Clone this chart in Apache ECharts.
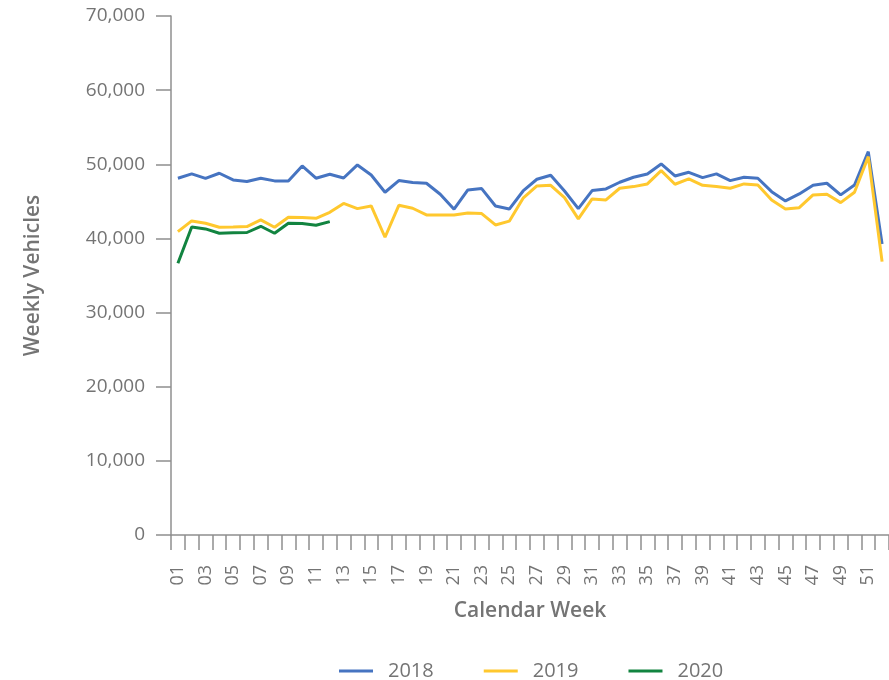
<!DOCTYPE html>
<html>
<head>
<meta charset="utf-8">
<script src="https://cdn.jsdelivr.net/npm/echarts@6/dist/echarts.min.js"></script>
<style>
  html, body { margin: 0; padding: 0; background: #fff; }
  #chart { width: 889px; height: 680px; }
</style>
</head>
<body>
<div id="chart"></div>
<script>
// calendar weeks
const weeks = ['01','02','03','04','05','06','07','08','09','10','11','12','13',
  '14','15','16','17','18','19','20','21','22','23','24','25','26',
  '27','28','29','30','31','32','33','34','35','36','37','38','39',
  '40','41','42','43','44','45','46','47','48','49','50','51','52'];

const v2018 = [48120, 48700, 48100, 48790, 47890, 47670, 48120, 47760, 47760, 49780,
  48120, 48660, 48150, 49910, 48560, 46230, 47800, 47530, 47440, 45960,
  43940, 46540, 46720, 44380, 43960, 46400, 47980, 48520, 46400, 44020,
  46450, 46680, 47580, 48250, 48700, 50050, 48430, 48920, 48200, 48700,
  47800, 48250, 48120, 46310, 45060, 46000, 47170, 47440, 45870, 47210,
  51710, 39260];

const v2019 = [40910, 42360, 42050, 41510, 41540, 41600, 42500, 41510, 42860, 42810,
  42720, 43530, 44720, 44020, 44380, 40160, 44470, 44070, 43170, 43150,
  43150, 43440, 43350, 41820, 42330, 45420, 47080, 47170, 45500, 42630,
  45330, 45190, 46770, 46990, 47350, 49150, 47310, 48030, 47170, 46990,
  46770, 47350, 47210, 45190, 43980, 44150, 45870, 45960, 44830, 46230,
  51030, 36870];

const v2020 = [36650, 41550, 41280, 40700, 40780, 40800, 41640, 40700, 42050, 42020,
  41780, 42270];

const chart = echarts.init(document.getElementById('chart'));

const textGrey = '#747474';
const axisGrey = '#8f8f8f';
const font = '"Open Sans", "Noto Sans", sans-serif';

function lineSeries(name, data, color) {
  return {
    name, type: 'line', data,
    showSymbol: false,
    symbol: 'none',
    lineStyle: { color, width: 3 },
    itemStyle: { color },
    animation: false
  };
}

chart.setOption({
  animation: false,
  textStyle: { fontFamily: font },
  grid: { left: 171, top: 16, width: 720, height: 519 },
  legend: {
    left: 334, top: 656,
    icon: 'rect',
    itemWidth: 34, itemHeight: 3,
    itemGap: 50,
    textStyle: { color: textGrey, fontSize: 20, fontFamily: font, padding: [0, 0, 0, 10] },
    data: ['2018', '2019', '2020']
  },
  xAxis: {
    type: 'category',
    data: weeks,
    boundaryGap: true,
    name: 'Calendar Week',
    nameLocation: 'middle',
    nameGap: 66,
    nameTextStyle: { color: textGrey, fontSize: 21, fontWeight: 600, fontFamily: font },
    axisLine: { lineStyle: { color: axisGrey, width: 1.5 } },
    axisTick: { show: true, length: 15, interval: 0, alignWithLabel: false, lineStyle: { color: axisGrey, width: 1.5 } },
    axisLabel: { rotate: 90, interval: 1, margin: 30, color: textGrey, fontSize: 18, fontFamily: font },
    splitLine: { show: false }
  },
  yAxis: {
    type: 'value',
    min: 0, max: 70000, interval: 10000,
    name: 'Weekly Vehicles',
    nameLocation: 'middle',
    nameGap: 127,
    nameTextStyle: { color: textGrey, fontSize: 21, fontWeight: 600, fontFamily: font },
    axisLine: { show: true, lineStyle: { color: axisGrey, width: 1.5 } },
    axisTick: { show: true, length: 15, lineStyle: { color: axisGrey, width: 1.5 } },
    axisLabel: {
      margin: 26, color: textGrey, fontSize: 19, fontFamily: font,
      formatter: v => v.toLocaleString('en-US')
    },
    splitLine: { show: false }
  },
  series: [
    lineSeries('2018', v2018, '#4674c1'),
    lineSeries('2019', v2019, '#ffc82e'),
    lineSeries('2020', v2020, '#128440')
  ]
});
</script>
</body>
</html>
